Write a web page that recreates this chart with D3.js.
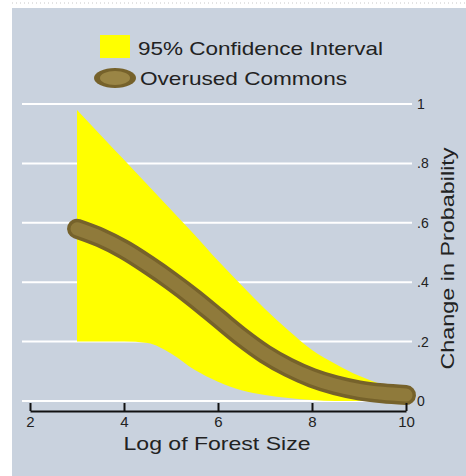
<!DOCTYPE html>
<html><head><meta charset="utf-8">
<script src="https://cdn.jsdelivr.net/npm/d3@7"></script>
<style>body{margin:0;background:#fff}svg{display:block}text{font-family:"Liberation Sans",Arial,sans-serif}</style>
</head><body><svg id="c" width="466" height="476"></svg>
<script>
const xVals   = [3, 3.5, 4, 4.5, 5, 5.5, 6, 6.5, 7, 7.5, 8, 8.5, 9, 9.5, 10];
const effect  = [0.58, 0.55, 0.51, 0.46, 0.405, 0.345, 0.28, 0.215, 0.158, 0.113, 0.078, 0.053, 0.036, 0.026, 0.02];
const upperCI = [0.98, 0.896, 0.812, 0.728, 0.644, 0.56, 0.472, 0.39, 0.31, 0.237, 0.172, 0.125, 0.085, 0.055, 0.035];
const lowerCI = [0.20, 0.20, 0.20, 0.195, 0.16, 0.105, 0.065, 0.036, 0.02, 0.01, 0.003, 0.0, 0.0, 0.0, 0.0];
const xTicks = [2, 4, 6, 8, 10];
const yTicks = [0, 0.2, 0.4, 0.6, 0.8, 1];
const yTickLabels = ["0", ".2", ".4", ".6", ".8", "1"];
const legendLabels = ["95% Confidence Interval", "Overused Commons"];

const svg = d3.select("#c");
const x = d3.scaleLinear().domain([2, 10]).range([30, 406]);
const y = d3.scaleLinear().domain([0, 1]).range([401, 104]);

// background panel
svg.append("rect").attr("x", 12).attr("y", 8).attr("width", 454).attr("height", 468).attr("fill", "#c9d2de");
svg.append("line").attr("x1", 12).attr("x2", 466).attr("y1", 3).attr("y2", 3)
  .attr("stroke", "#c8c8c8").attr("stroke-dasharray", "1,3");

// gridlines
svg.append("g").selectAll("line").data(yTicks).join("line")
  .attr("x1", 22).attr("x2", 412)
  .attr("y1", d => y(d)).attr("y2", d => y(d))
  .attr("stroke", "#ffffff").attr("stroke-width", 2);

// right axis labels
svg.append("g").selectAll("text").data(yTicks).join("text")
  .attr("x", 417).attr("y", d => y(d)).attr("dy", "0.35em")
  .attr("font-size", 14).attr("fill", "#222")
  .text((d, i) => yTickLabels[i]);

svg.append("text")
  .attr("transform", `translate(454,${(y(0)+y(1))/2 + 6}) rotate(-90)`)
  .attr("text-anchor", "middle").attr("font-size", 18).attr("fill", "#222")
  .attr("textLength", 222).attr("lengthAdjust", "spacingAndGlyphs")
  .text("Change in Probability");

// confidence band
const pts = xVals.map((v, i) => ({x: v, e: effect[i], u: upperCI[i], l: lowerCI[i]}));
const area = d3.area().x(d => x(d.x)).y0(d => y(d.l)).y1(d => y(d.u)).curve(d3.curveMonotoneX);
svg.append("path").datum(pts).attr("d", area).attr("fill", "#ffff00");

// effect line
const line = d3.line().x(d => x(d.x)).y(d => y(d.e)).curve(d3.curveMonotoneX);
svg.append("path").datum(pts).attr("d", line).attr("fill", "none")
  .attr("stroke", "#76622b").attr("stroke-width", 20).attr("stroke-linecap", "round");
svg.append("path").datum(pts).attr("d", line).attr("fill", "none")
  .attr("stroke", "#8f7a3b").attr("stroke-width", 13).attr("stroke-linecap", "round");

// bottom axis
const ax = svg.append("g").attr("transform", "translate(0,411)")
  .call(d3.axisBottom(x).tickValues(xTicks).tickSizeInner(-8).tickSizeOuter(0).tickPadding(5).tickFormat(d3.format("d")));
ax.select(".domain").attr("stroke", "#111").attr("stroke-width", 2);
ax.selectAll(".tick line").attr("stroke", "#111").attr("stroke-width", 2);
ax.selectAll(".tick text").attr("font-size", 15).attr("fill", "#222")
  .attr("font-family", "Liberation Sans, Arial, sans-serif");

svg.append("text").attr("x", 217).attr("y", 450).attr("text-anchor", "middle")
  .attr("font-size", 19).attr("fill", "#222")
  .attr("textLength", 187).attr("lengthAdjust", "spacingAndGlyphs")
  .text("Log of Forest Size");

// legend
svg.append("rect").attr("x", 100).attr("y", 35).attr("width", 30).attr("height", 23).attr("fill", "#ffff00");
svg.append("ellipse").attr("cx", 115).attr("cy", 78).attr("rx", 21).attr("ry", 10).attr("fill", "#76622b");
svg.append("ellipse").attr("cx", 115).attr("cy", 78).attr("rx", 15).attr("ry", 7).attr("fill", "#9a8545");
svg.append("text").attr("x", 138).attr("y", 55).attr("font-size", 19).attr("fill", "#222")
  .attr("textLength", 245).attr("lengthAdjust", "spacingAndGlyphs").text(legendLabels[0]);
svg.append("text").attr("x", 140).attr("y", 85).attr("font-size", 19).attr("fill", "#222")
  .attr("textLength", 207).attr("lengthAdjust", "spacingAndGlyphs").text(legendLabels[1]);
</script></body></html>
